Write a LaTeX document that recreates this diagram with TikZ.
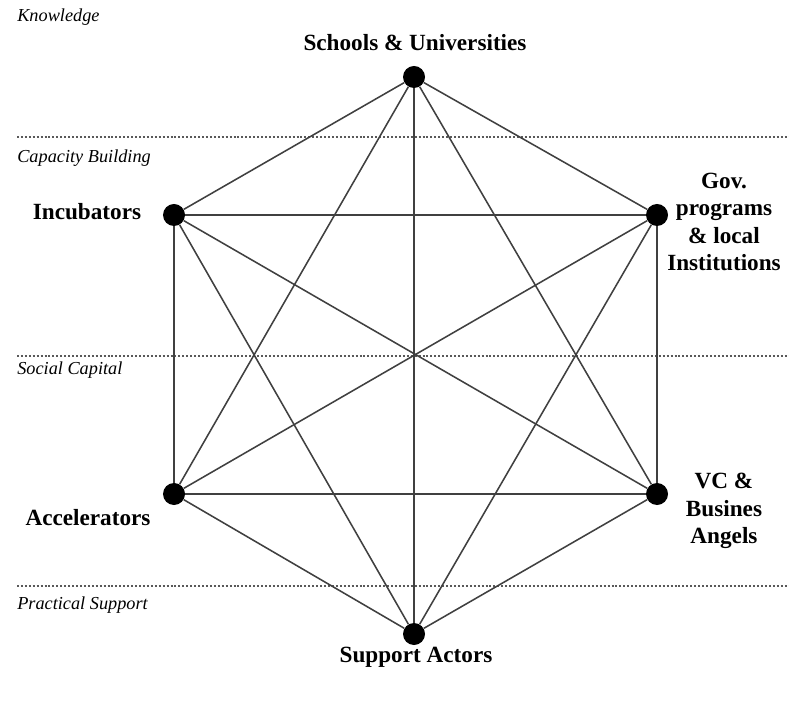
\documentclass[tikz,border=0pt]{standalone}
\usepackage{fontspec}
\setmainfont{Liberation Serif}

\begin{document}
\begin{tikzpicture}[x=0.025cm,y=-0.025cm]
  \tikzset{actor/.style = {circle,fill=black,minimum size=0.55cm,inner sep=0pt}}
  \tikzset{actorlbl/.style = {font=\fontsize{16.5}{19.5}\selectfont\bfseries,align=center,inner sep=0pt}}
  \tikzset{levellbl/.style = {font=\fontsize{13}{15}\selectfont\itshape,anchor=west,inner sep=0pt}}
  \tikzset{tie/.style = {draw=black!75,line width=1.1pt}}
  \tikzset{divider/.style = {draw=black!65,line width=0.9pt,dash pattern=on 1.4pt off 1.4pt}}

\useasboundingbox (0,0) rectangle (789,701);

% levels
\coordinate (k1) at (17,137);  \coordinate (k2) at (789,137);
\coordinate (s1) at (17,356);  \coordinate (s2) at (789,356);
\coordinate (p1) at (17,586);  \coordinate (p2) at (789,586);
\draw[divider] (k1) -- (k2);
\draw[divider] (s1) -- (s2);
\draw[divider] (p1) -- (p2);

\node[levellbl] (know) at (17,17)  {Knowledge};
\node[levellbl] (cap)  at (17,158) {Capacity Building};
\node[levellbl] (soc)  at (17,370) {Social Capital};
\node[levellbl] (prac) at (17,605) {Practical Support};

% actors
\node[actor] (uni) at (414,77)  {};
\node[actor] (inc) at (174,215) {};
\node[actor] (gov) at (657,215) {};
\node[actor] (acc) at (174,494) {};
\node[actor] (vc)  at (657,494) {};
\node[actor] (sup) at (414,634) {};

\node[actorlbl] (unilbl) at (415,43)  {Schools \& Universities};
\node[actorlbl] (inclbl) at (87,212)  {Incubators};
\node[actorlbl] (govlbl) at (724,222) {Gov.\\programs\\\& local\\Institutions};
\node[actorlbl] (acclbl) at (88,518)  {Accelerators};
\node[actorlbl] (vclbl)  at (724,511) {VC \&\\Busines\\Angels};
\node[actorlbl] (suplbl) at (416,657) {Support Actors};

% everyone talks to everyone
\path[tie] (uni) edge (inc) edge (gov) edge (acc) edge (vc) edge (sup);
\path[tie] (inc) edge (gov) edge (acc) edge (vc) edge (sup);
\path[tie] (gov) edge (acc) edge (vc) edge (sup);
\path[tie] (acc) edge (vc) edge (sup);
\path[tie] (vc) edge (sup);

\end{tikzpicture}
\end{document}
